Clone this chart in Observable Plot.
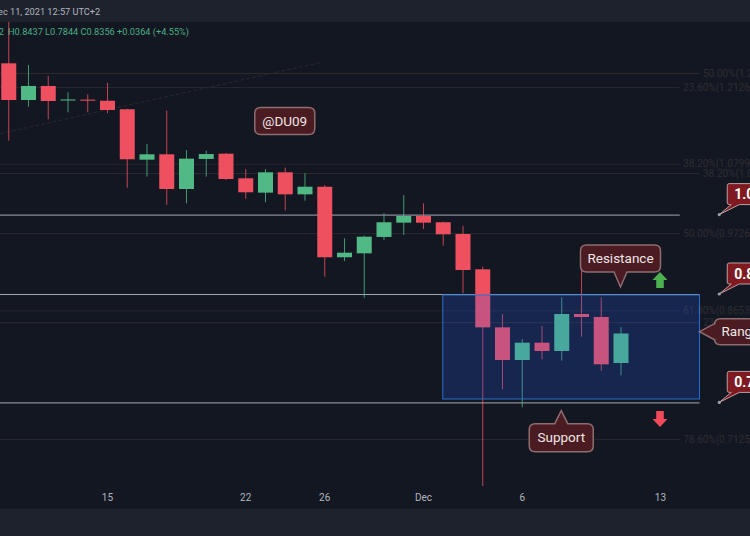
<!DOCTYPE html>
<html><head><meta charset="utf-8">
<script src="https://cdn.jsdelivr.net/npm/d3@7"></script>
<script src="https://cdn.jsdelivr.net/npm/@observablehq/plot@0.6"></script>
<style>
html,body{margin:0;padding:0;background:#131722;}
#wrap{position:relative;width:750px;height:536px;overflow:hidden;background:#131722;font-family:Roboto,"Open Sans",sans-serif;}
#hdr{position:absolute;left:0;top:0;width:750px;height:22px;background:#1e222d;}
#foot{position:absolute;left:0;top:509px;width:750px;height:27px;background:#1e222d;}
#chart{position:absolute;left:0;top:22px;}
.t{position:absolute;white-space:nowrap;line-height:12px;font-size:9.2px;}
#date{left:-8px;top:6px;color:#b2b5be;}
#o{right:746px;top:26px;color:#4caf82;}
#hlc{left:8px;top:26px;color:#4caf82;}
</style></head><body>
<div id="wrap"><div id="hdr"></div><div id="chart"></div><div id="foot"></div>
<div class="t" id="date"></div><div class="t" id="o"></div><div class="t" id="hlc"></div></div>
<script>
// ---- data ----
const dates = ["2021-11-10","2021-11-11","2021-11-12","2021-11-13","2021-11-14","2021-11-15","2021-11-16","2021-11-17","2021-11-18","2021-11-19","2021-11-20","2021-11-21","2021-11-22","2021-11-23","2021-11-24","2021-11-25","2021-11-26","2021-11-27","2021-11-28","2021-11-29","2021-11-30","2021-12-01","2021-12-02","2021-12-03","2021-12-04","2021-12-05","2021-12-06","2021-12-07","2021-12-08","2021-12-09","2021-12-10","2021-12-11"];
const open  = [1.2568,1.1890,1.2145,1.1881,1.1897,1.1877,1.1725,1.0865,1.0954,1.0394,1.0877,1.0964,1.0564,1.0337,1.0660,1.0311,1.0430,0.9376,0.9432,0.9668,0.9879,0.9979,0.9885,0.9711,0.9207,0.8434,0.8028,0.8241,0.8138,0.8606,0.8567,0.7992];
const high  = [1.3520,1.2536,1.2330,1.2029,1.1993,1.2205,1.1735,1.1126,1.1700,1.1025,1.1014,1.0975,1.0713,1.0713,1.0735,1.0644,1.0457,0.9648,0.9686,1.0020,1.0301,1.0172,0.9894,0.9834,0.9244,0.8606,0.8287,0.8451,0.8825,0.9197,0.8825,0.8437];
const low   = [1.1181,1.1770,1.1549,1.1671,1.1671,1.1654,1.0415,1.0590,1.0146,1.0172,1.0590,1.0537,1.0243,1.0188,1.0065,1.0212,0.9105,0.9323,0.8820,0.9624,0.9697,0.9785,0.9541,0.8879,0.6000,0.7681,0.7475,0.8036,0.8020,0.8316,0.7900,0.7844];
const close = [1.1890,1.2145,1.1872,1.1900,1.1878,1.1712,1.0872,1.0954,1.0394,1.0882,1.0958,1.0553,1.0343,1.0660,1.0311,1.0430,0.9376,0.9441,0.9672,0.9885,0.9979,0.9879,0.9707,0.9197,0.8434,0.8028,0.8241,0.8138,0.8606,0.8567,0.7976,0.8356];

const tickDates  = ["2021-11-15","2021-11-22","2021-11-26","2021-12-01","2021-12-06","2021-12-13"];
const tickLabels = ["15","22","26","Dec","6","13"];

const fib1Prices = [1.2126,1.0799,0.9726,0.8653,0.7125];
const fib1Labels = ["23.60%(1.2126)","38.20%(1.0799)","50.00%(0.9726)","61.80%(0.8653)","78.60%(0.7125)"];
const fib1End = "2021-12-14";
const fib2Prices = [1.2385,1.0648,0.8500];
const fib2Labels = ["50.00%(1.2385)","38.20%(1.0648)","23.60%(0.8500)"];
const fib2End = "2021-12-15";
const trendDates  = ["2021-11-09T14:00","2021-11-25T19:00"];
const trendPrices = [1.1312,1.2593];

const levelPrices = [1.00,0.887,0.753];
const levelEnds   = ["2021-12-14","2021-12-15","2021-12-15"];
const levelLabels = ["1.00","0.88","0.75"];
const levelTagDate = "2021-12-16";

const rangeStart = "2021-12-02", rangeEnd = "2021-12-15", rangeTop = 0.8857, rangeBottom = 0.7569;

const calloutTexts  = ["@DU09","Resistance","Support","Range"];
const calloutDates  = ["2021-11-24","2021-12-11","2021-12-08","2021-12-15"];
const calloutPrices = [1.152,0.8965,0.7437,0.8379];

const arrowDates  = ["2021-12-13","2021-12-13"];
const arrowPrices = [0.906,0.7343];
const arrowDirs   = ["up","down"];

const headerDate = "Dec 11, 2021 12:57 UTC+2";
const ohlcOpen = "O0.7992";
const ohlcRest = "H0.8437 L0.7844 C0.8356 +0.0364 (+4.55%)";

// ---- build ----
document.getElementById("date").textContent = headerDate;
document.getElementById("o").textContent = ohlcOpen;
document.getElementById("hlc").textContent = ohlcRest;

const D = s => new Date(s.length > 10 ? s + "Z" : s);
const candles = dates.map((d,i)=>({date:D(d),open:open[i],high:high[i],low:low[i],close:close[i]}));
const ups = candles.filter(c=>c.close>=c.open), downs = candles.filter(c=>c.close<c.open);
const UP = "#51b985", DOWN = "#ef5060";
const DAY = 864e5, t0 = Date.UTC(2021,10,10);
const xDomain = [new Date(t0-0.4177*DAY), new Date(t0+37.557*DAY)];
const left = () => xDomain[0];
const fib1 = fib1Prices.map((p,i)=>({p,label:fib1Labels[i]}));
const fib2 = fib2Prices.map((p,i)=>({p,label:fib2Labels[i]}));
const levels = levelPrices.map((p,i)=>({p,end:D(levelEnds[i]),label:levelLabels[i]}));
const tickMap = new Map(tickDates.map((d,i)=>[+D(d),tickLabels[i]]));
const FONT = "Roboto, 'Open Sans', sans-serif";

function bubble(x,y,w,h,r,ptr){
  const p=d3.path(), s=ptr&&ptr.side;
  p.moveTo(x+r,y);
  if(s==="top"){p.lineTo(ptr.c-ptr.b/2,y);p.lineTo(ptr.tx,ptr.ty);p.lineTo(ptr.c+ptr.b/2,y);}
  p.lineTo(x+w-r,y); p.quadraticCurveTo(x+w,y,x+w,y+r);
  p.lineTo(x+w,y+h-r); p.quadraticCurveTo(x+w,y+h,x+w-r,y+h);
  if(s==="bottom"){p.lineTo(ptr.c+ptr.b/2,y+h);p.lineTo(ptr.tx,ptr.ty);p.lineTo(ptr.c-ptr.b/2,y+h);}
  p.lineTo(x+r,y+h); p.quadraticCurveTo(x,y+h,x,y+h-r);
  if(s==="left"){p.lineTo(x,ptr.c+ptr.b/2);p.lineTo(ptr.tx,ptr.ty);p.lineTo(x,ptr.c-ptr.b/2);}
  p.lineTo(x,y+r); p.quadraticCurveTo(x,y,x+r,y); p.closePath();
  return p.toString();
}

function annotations(index, scales){
  const X=scales.x, Y=scales.y;
  const g=d3.create("svg:g").attr("font-family",FONT);
  arrowDates.forEach((d,i)=>{
    const cx=X(D(d)), cy=Y(arrowPrices[i]);
    const s = arrowDirs[i]==="up" ? 1 : -1;
    const pts=[[cx,cy-8*s],[cx+7.5,cy],[cx+3.8,cy],[cx+3.8,cy+8*s],[cx-3.8,cy+8*s],[cx-3.8,cy],[cx-7.5,cy]];
    g.append("polygon").attr("points",pts.map(p=>p.join(",")).join(" "))
      .attr("fill",arrowDirs[i]==="up"?"#4caf50":"#f04a5a");
  });
  const lay = [
    (tx,ty)=>({x:tx-30,y:ty-13.5,w:60,h:27,ptr:null,anchor:"middle"}),
    (tx,ty)=>({x:tx-40,y:ty-42,w:80,h:27,ptr:{side:"bottom",c:tx,b:13,tx,ty},anchor:"middle"}),
    (tx,ty)=>({x:tx-32,y:ty+13,w:64,h:28,ptr:{side:"top",c:tx,b:13,tx,ty},anchor:"middle"}),
    (tx,ty)=>({x:tx+15,y:ty-13,w:60,h:26,ptr:{side:"left",c:ty,b:16,tx,ty},anchor:"start"})
  ];
  calloutTexts.forEach((t,i)=>{
    const tx=X(D(calloutDates[i])), ty=Y(calloutPrices[i]);
    const L=lay[i](tx,ty);
    g.append("path").attr("d",bubble(L.x,L.y,L.w,L.h,6,L.ptr))
      .attr("fill","#4a1c22").attr("stroke","#8e6d70").attr("stroke-width",1.5);
    g.append("text").attr("x",L.anchor==="middle"?L.x+L.w/2:L.x+7).attr("y",L.y+L.h/2)
      .attr("dy","0.35em").attr("text-anchor",L.anchor)
      .attr("fill","#efe6e6").attr("font-size",13.5).text(t);
  });
  levels.forEach(l=>{
    const tx=X(D(levelTagDate)), ty=Y(l.p);
    const x=tx+8, y=ty-31, w=50, h=21;
    g.append("path").attr("d",bubble(x,y,w,h,2,{side:"bottom",c:x+8,b:8,tx,ty}))
      .attr("fill","#7f1b20").attr("stroke","#b9a0a2").attr("stroke-width",1);
    g.append("circle").attr("cx",tx).attr("cy",ty).attr("r",1.6).attr("fill","#9aa0a8");
    g.append("text").attr("x",x+7).attr("y",y+h/2).attr("dy","0.36em").attr("text-anchor","start")
      .attr("fill","#ffffff").attr("font-weight","bold").attr("font-size",14).text(l.label);
  });
  return g.node();
}

const chart = Plot.plot({
  width:750, height:487, marginTop:0, marginRight:0, marginBottom:23, marginLeft:0,
  style:{background:"transparent", overflow:"hidden", fontFamily:FONT},
  x:{type:"utc", domain:xDomain},
  y:{type:"log", domain:[0.66367,1.3377], axis:null},
  marks:[
    Plot.ruleY(fib1,{y:"p",x1:left,x2:()=>D(fib1End),stroke:"#26272f",strokeWidth:1}),
    Plot.ruleY(fib2,{y:"p",x1:left,x2:()=>D(fib2End),stroke:"#2d2b2c",strokeWidth:1}),
    Plot.text(fib1,{x:()=>D(fib1End),y:"p",text:"label",textAnchor:"start",dx:3,fill:"#2f2d31",fontSize:10}),
    Plot.text(fib2,{x:()=>D(fib2End),y:"p",text:"label",textAnchor:"start",dx:3,fill:"#2f2d31",fontSize:10}),
    Plot.line(trendDates.map((d,i)=>({d:D(d),p:trendPrices[i]})),{x:"d",y:"p",stroke:"#29282f",strokeDasharray:"3,3",strokeWidth:1}),
    Plot.ruleY(levels,{y:"p",x1:left,x2:"end",stroke:"#a5a8b0",strokeWidth:1}),
    Plot.ruleX(ups,{x:"date",y1:"low",y2:"high",stroke:UP,strokeWidth:1,strokeOpacity:0.8,clip:true}),
    Plot.ruleX(downs,{x:"date",y1:"low",y2:"high",stroke:DOWN,strokeWidth:1,strokeOpacity:0.8,clip:true}),
    Plot.ruleX(ups,{x:"date",y1:"open",y2:"close",stroke:UP,strokeWidth:15}),
    Plot.ruleX(downs,{x:"date",y1:"open",y2:"close",stroke:DOWN,strokeWidth:15}),
    Plot.rect([{a:D(rangeStart),b:D(rangeEnd),t:rangeTop,u:rangeBottom}],{x1:"a",x2:"b",y1:"u",y2:"t",fill:"#2962ff",fillOpacity:0.2,stroke:"#2a6fd0",strokeWidth:1}),
    annotations,
    Plot.axisX(tickDates.map(D),{tickFormat:d=>tickMap.get(+d),tickSize:0,tickPadding:7,fontSize:10,color:"#b2b5be"})
  ]
});
document.getElementById("chart").appendChild(chart);
</script>
</body></html>
